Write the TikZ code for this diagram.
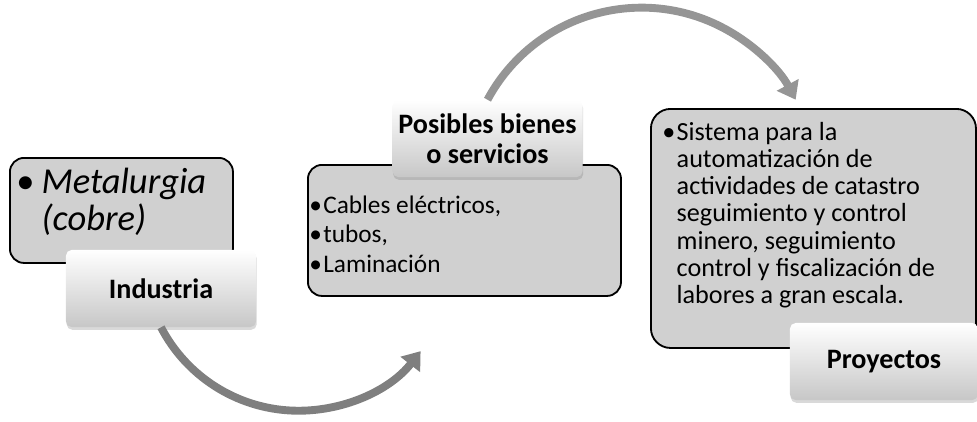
\documentclass[tikz,border=0pt]{standalone}
\usepackage{fontspec}
\setmainfont{Carlito}
\usetikzlibrary{arrows.meta}
\usetikzlibrary{positioning}
\usetikzlibrary{shadows}

\definecolor{boxgray}{HTML}{D0D0D0}
\definecolor{arrowdark}{HTML}{7F7F7F}
\definecolor{arrowlight}{HTML}{959595}

\tikzset{
  infobox/.style={draw=black, line width=1.3pt, fill=boxgray, rounded corners=10pt, inner sep=0pt, anchor=north west},
  tagbox/.style={rounded corners=4pt, top color=white, bottom color=black!22,
    drop shadow={opacity=0.3, shadow xshift=0.5pt, shadow yshift=-2pt},
    font=\fontsize{20}{21.5}\bfseries, align=center, inner sep=0pt,
    minimum width=4.75cm, minimum height=1.925cm},
  bodytext/.style={anchor=base west, inner sep=0pt},
  curvedarrow/.style={line width=5.6pt, -{Triangle[length=12pt,width=17pt]}}
}

\begin{document}
\begin{tikzpicture}[x=0.025cm, y=-0.025cm]
    \useasboundingbox (0,0) rectangle (977,421);

    \node [infobox, minimum width=5.575cm, minimum height=2.625cm] (metal) at (9,157)   {};
    \node [infobox, minimum width=7.825cm, minimum height=3.275cm] (goods) at (307,164) {};
    \node [infobox, minimum width=8.125cm, minimum height=5.975cm, rounded corners=14pt] (sist) at (650,108) {};

    \node [bodytext, font=\fontsize{26}{25}\selectfont] (metaltxt) at (16,193)
      {\begin{tabular}[t]{@{}l@{\hspace{5pt}}l@{}}
        • & \textit{Metalurgia}\\
          & \textit{(cobre)}
      \end{tabular}};
    \node [bodytext, font=\fontsize{18}{21}\selectfont] (goodstxt) at (309,213)
      {\begin{tabular}[t]{@{}l@{\hspace{1pt}}l@{}}
        • & Cables eléctricos,\\
        • & tubos,\\
        • & Laminación
      \end{tabular}};
    \node [bodytext, font=\fontsize{18.6}{19.4}\selectfont] (sisttxt) at (662,140)
      {\begin{tabular}[t]{@{}l@{\hspace{1pt}}l@{}}
        • & Sistema para la\\
          & automatización de\\
          & actividades de catastro\\
          & seguimiento y control\\
          & minero, seguimiento\\
          & control y fiscalización de\\
          & labores a gran escala.
      \end{tabular}};

    \node [tagbox] (ind)  at (161,288.5) {Industria};
    \node [tagbox] (pos)  at (487.5,138.5) {Posibles bienes\\o servicios};
    \node [tagbox, minimum width=4.7cm] (proj) at (884,361.5) {Proyectos};

    \draw [curvedarrow, arrowdark]  (ind.south) arc [start angle=152.5, end angle=38, radius=155];
    \draw [curvedarrow, arrowlight] (pos.north) arc [start angle=208.3, end angle=331.7, radius=175];
\end{tikzpicture}
\end{document}
